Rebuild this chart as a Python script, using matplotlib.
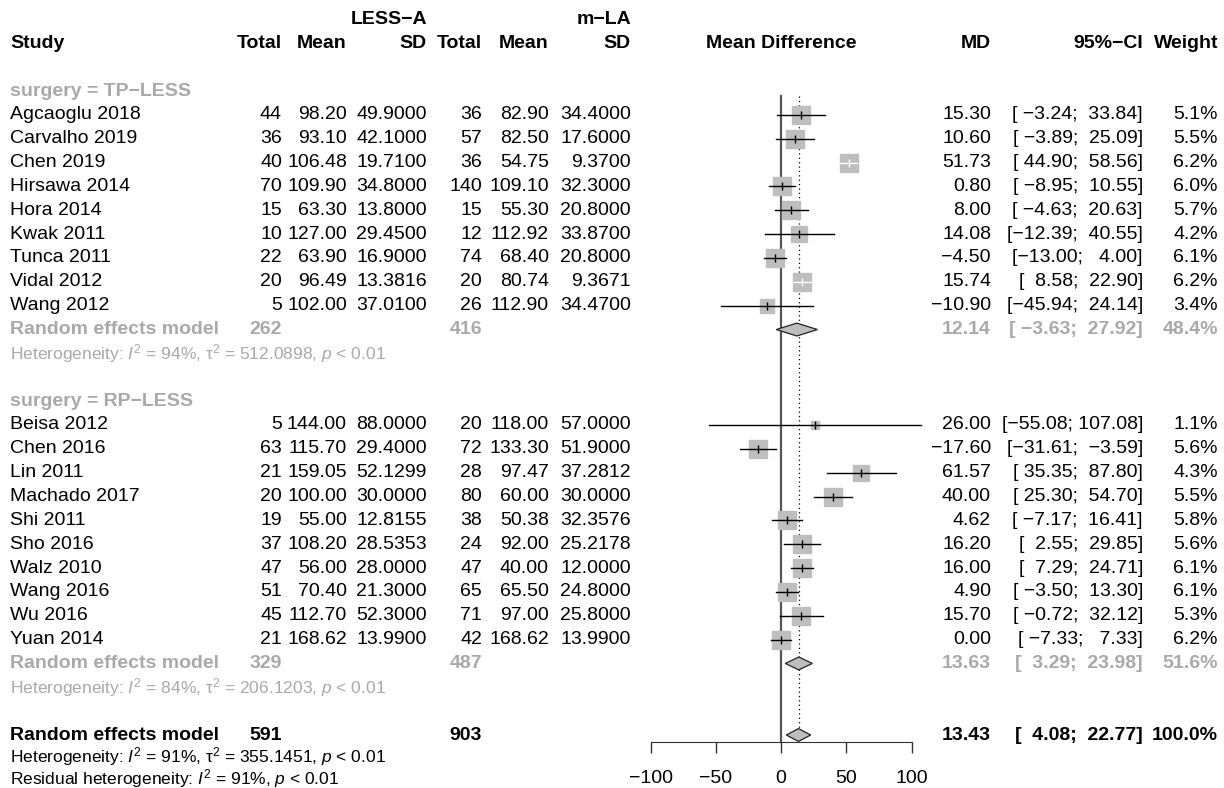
import numpy as np
import matplotlib.pyplot as plt
from matplotlib.patches import Polygon

plt.rcParams['font.family'] = ['Liberation Sans', 'DejaVu Sans']
plt.rcParams['mathtext.fontset'] = 'custom'
plt.rcParams['mathtext.rm'] = 'Liberation Sans'
plt.rcParams['mathtext.it'] = 'Liberation Sans:italic'
plt.rcParams['mathtext.bf'] = 'Liberation Sans:bold'

# ---- data ----
study_tp = ['Agcaoglu 2018', 'Carvalho 2019', 'Chen 2019', 'Hirsawa 2014', 'Hora 2014',
            'Kwak 2011', 'Tunca 2011', 'Vidal 2012', 'Wang 2012']
n_e_tp = [44, 36, 40, 70, 15, 10, 22, 20, 5]
mean_e_tp = [98.20, 93.10, 106.48, 109.90, 63.30, 127.00, 63.90, 96.49, 102.00]
sd_e_tp = [49.9000, 42.1000, 19.7100, 34.8000, 13.8000, 29.4500, 16.9000, 13.3816, 37.0100]
n_c_tp = [36, 57, 36, 140, 15, 12, 74, 20, 26]
mean_c_tp = [82.90, 82.50, 54.75, 109.10, 55.30, 112.92, 68.40, 80.74, 112.90]
sd_c_tp = [34.4000, 17.6000, 9.3700, 32.3000, 20.8000, 33.8700, 20.8000, 9.3671, 34.4700]
md_tp = [15.30, 10.60, 51.73, 0.80, 8.00, 14.08, -4.50, 15.74, -10.90]
lo_tp = [-3.24, -3.89, 44.90, -8.95, -4.63, -12.39, -13.00, 8.58, -45.94]
hi_tp = [33.84, 25.09, 58.56, 10.55, 20.63, 40.55, 4.00, 22.90, 24.14]
w_tp = [5.1, 5.5, 6.2, 6.0, 5.7, 4.2, 6.1, 6.2, 3.4]

study_rp = ['Beisa 2012', 'Chen 2016', 'Lin 2011', 'Machado 2017', 'Shi 2011', 'Sho 2016',
            'Walz 2010', 'Wang 2016', 'Wu 2016', 'Yuan 2014']
n_e_rp = [5, 63, 21, 20, 19, 37, 47, 51, 45, 21]
mean_e_rp = [144.00, 115.70, 159.05, 100.00, 55.00, 108.20, 56.00, 70.40, 112.70, 168.62]
sd_e_rp = [88.0000, 29.4000, 52.1299, 30.0000, 12.8155, 28.5353, 28.0000, 21.3000, 52.3000, 13.9900]
n_c_rp = [20, 72, 28, 80, 38, 24, 47, 65, 71, 42]
mean_c_rp = [118.00, 133.30, 97.47, 60.00, 50.38, 92.00, 40.00, 65.50, 97.00, 168.62]
sd_c_rp = [57.0000, 51.9000, 37.2812, 30.0000, 32.3576, 25.2178, 12.0000, 24.8000, 25.8000, 13.9900]
md_rp = [26.00, -17.60, 61.57, 40.00, 4.62, 16.20, 16.00, 4.90, 15.70, 0.00]
lo_rp = [-55.08, -31.61, 35.35, 25.30, -7.17, 2.55, 7.29, -3.50, -0.72, -7.33]
hi_rp = [107.08, -3.59, 87.80, 54.70, 16.41, 29.85, 24.71, 13.30, 32.12, 7.33]
w_rp = [1.1, 5.6, 4.3, 5.5, 5.8, 5.6, 6.1, 6.1, 5.3, 6.2]

# pooled: [TP-LESS, RP-LESS, overall]
re_n_e = [262, 329, 591]
re_n_c = [416, 487, 903]
re_md = [12.14, 13.63, 13.43]
re_lo = [-3.63, 3.29, 4.08]
re_hi = [27.92, 23.98, 22.77]
re_w = [48.4, 51.6, 100.0]
het_i2 = [94, 84, 91]
het_tau2 = [512.0898, 206.1203, 355.1451]
resid_i2 = 91

xticks = [-100, -50, 0, 50, 100]

GREY = '#A9A9A9'
SQ = '#BEBEBE'
FS = 14
FS_HET = 12.5

def f(v, d, width=0):
    return f"{v:{width}.{d}f}".replace('-', '\u2212')

def ci(lo, hi):
    return '[' + f(lo, 2, 6) + '; ' + f(hi, 2, 6) + ']'

# column positions (px)
X_STUDY = 10
X_NE, X_ME, X_SE = 282, 347, 427
X_NC, X_MC, X_SC = 482, 549, 631
X_MD, X_CI, X_W = 991, 1143, 1218

W, H = 1224, 788
fig = plt.figure(figsize=(W / 100, H / 100), dpi=100)
ax = fig.add_axes([0, 0, 1, 1])
r0, dr = 19.5, 23.85
ax.set_xlim(0, W)
ax.set_ylim((H - r0) / dr, -r0 / dr)
ax.axis('off')

def txt(x, r, s, ha='right', bold=False, color='black', size=FS):
    ax.text(x, r, s, ha=ha, va='center', fontsize=size, color=color,
            fontweight='bold' if bold else 'normal')

# header
txt(X_SE, 0, 'LESS\u2212A', bold=True)
txt(X_SC, 0, 'm\u2212LA', bold=True)
txt(X_STUDY, 1, 'Study', ha='left', bold=True)
for x, s in [(X_NE, 'Total'), (X_ME, 'Mean'), (X_SE, 'SD'), (X_NC, 'Total'),
             (X_MC, 'Mean'), (X_SC, 'SD'), (X_MD, 'MD'), (X_CI, '95%\u2212CI'), (X_W, 'Weight')]:
    txt(x, 1, s, bold=True)
txt(781, 1, 'Mean Difference', ha='center', bold=True)

# forest axes
fa_bottom = 742
fax = fig.add_axes([0, (H - fa_bottom) / H, 1, fa_bottom / H])
fax.patch.set_alpha(0)
scale = 1.305
x0 = 781
fax.set_xlim(-x0 / scale, (W - x0) / scale)
fax.set_ylim((fa_bottom - r0) / dr, -r0 / dr)
for s in ['top', 'right', 'left']:
    fax.spines[s].set_visible(False)
fax.spines['bottom'].set_bounds(-100, 100)
fax.spines['bottom'].set_color('#333333')
fax.set_yticks([])
fax.set_xticks(xticks)
fax.set_xticklabels([f(t, 0) for t in xticks])
fax.tick_params(axis='x', length=8, width=1, color='#333333', pad=12, labelsize=FS)


def study_block(r_start, names, ne, me, se, nc, mc, sc, md, lo, hi, w):
    for i, nm in enumerate(names):
        r = r_start + i
        txt(X_STUDY, r, nm, ha='left')
        txt(X_NE, r, str(ne[i]))
        txt(X_ME, r, f(me[i], 2))
        txt(X_SE, r, f(se[i], 4))
        txt(X_NC, r, str(nc[i]))
        txt(X_MC, r, f(mc[i], 2))
        txt(X_SC, r, f(sc[i], 4))
        txt(X_MD, r, f(md[i], 2))
        txt(X_CI, r, ci(lo[i], hi[i]))
        txt(X_W, r, f"{w[i]:.1f}%")
        side_px = 7.6 * np.sqrt(w[i])
        half = side_px / 2 / scale
        inside = (lo[i] > md[i] - half) and (hi[i] < md[i] + half)
        lc = 'white' if inside else 'black'
        fax.plot(md[i], r, 's', ms=side_px * 0.72, color=SQ, mec=SQ, zorder=3)
        fax.plot([lo[i], hi[i]], [r, r], color=lc, lw=1, zorder=4, clip_on=False)
        fax.plot(md[i], r, '|', ms=6, mew=1, color=lc, zorder=4)


def pooled(r, k, color, het_gap=1.0):
    txt(X_STUDY, r, 'Random effects model', ha='left', bold=True, color=color)
    txt(X_NE, r, str(re_n_e[k]), bold=True, color=color)
    txt(X_NC, r, str(re_n_c[k]), bold=True, color=color)
    txt(X_MD, r, f(re_md[k], 2), bold=True, color=color)
    txt(X_CI, r, ci(re_lo[k], re_hi[k]), bold=True, color=color)
    txt(X_W, r, f"{re_w[k]:.1f}%", bold=True, color=color)
    h = 0.27
    fax.add_patch(Polygon([(re_lo[k], r), (re_md[k], r - h), (re_hi[k], r), (re_md[k], r + h)],
                          closed=True, facecolor=SQ, edgecolor='#222222', lw=0.9, zorder=5))
    txt(X_STUDY, r + het_gap, 'Heterogeneity: $\\mathit{I}^{2}$ = %d%%, $\\mathrm{\\tau}^{2}$ = %.4f, $\\mathit{p}$ < 0.01'
        % (het_i2[k], het_tau2[k]), ha='left', color=color, size=FS_HET)


txt(X_STUDY, 3, 'surgery = TP\u2212LESS', ha='left', bold=True, color=GREY)
study_block(4, study_tp, n_e_tp, mean_e_tp, sd_e_tp, n_c_tp, mean_c_tp, sd_c_tp,
            md_tp, lo_tp, hi_tp, w_tp)
pooled(13, 0, GREY)

txt(X_STUDY, 16, 'surgery = RP\u2212LESS', ha='left', bold=True, color=GREY)
study_block(17, study_rp, n_e_rp, mean_e_rp, sd_e_rp, n_c_rp, mean_c_rp, sd_c_rp,
            md_rp, lo_rp, hi_rp, w_rp)
pooled(27, 1, GREY)

pooled(30, 2, 'black', het_gap=0.9)
txt(X_STUDY, 31.82, 'Residual heterogeneity: $\\mathit{I}^{2}$ = %d%%, $\\mathit{p}$ < 0.01' % resid_i2,
    ha='left', size=FS_HET)

# reference lines
fax.plot([0, 0], [3.2, (fa_bottom - r0) / dr], color='#555555', lw=1.6, zorder=2)
fax.plot([re_md[2], re_md[2]], [3.2, 30 - 0.27], color='black', lw=0.9,
         linestyle=(0, (1, 2.5)), zorder=2)

fig.savefig('out.png', dpi=100)
